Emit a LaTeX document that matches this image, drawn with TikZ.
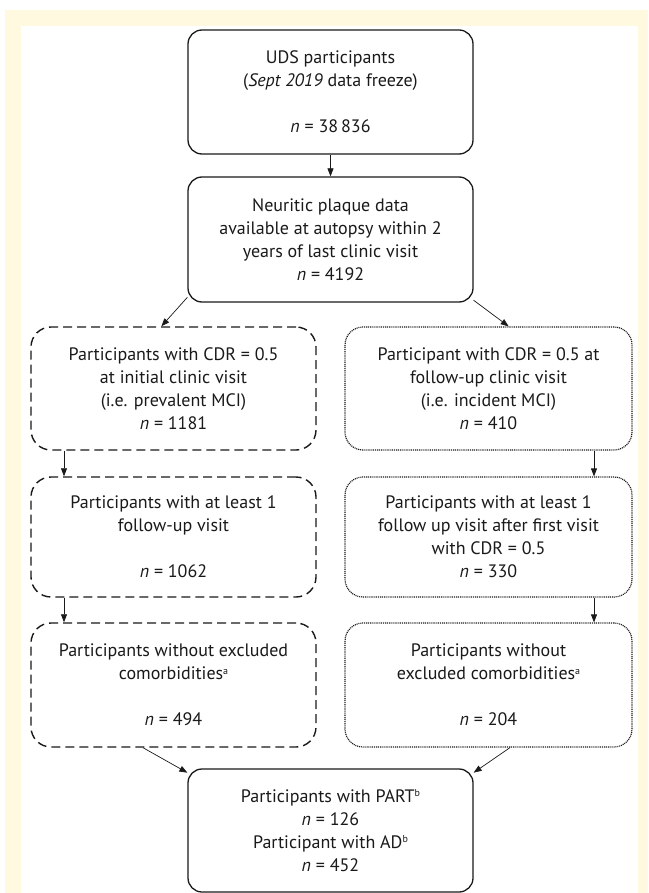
\documentclass[tikz,border=0pt]{standalone}
\usepackage{fontspec}
\setmainfont{PT Sans}
\usetikzlibrary{arrows.meta}
\definecolor{cream}{HTML}{FFF9E0}
\definecolor{ink}{HTML}{1A1A1A}
\newcommand{\nn}{\textit{n}~=~}
\newcommand{\sups}[1]{\raisebox{0.6ex}{\fontsize{10}{10}\selectfont #1}}
\tikzset{
  base/.style={draw=ink, text=ink, align=center, inner sep=0pt,
    font=\fontsize{18}{23}\selectfont, minimum height=10pt},
  solidbox/.style={base, line width=1.3pt, rounded corners=14pt},
  dashbox/.style={base, line width=1.4pt, rounded corners=20pt, dash pattern=on 9pt off 5pt},
  dotbox/.style={base, line width=1.2pt, rounded corners=18pt, dash pattern=on 1pt off 0.9pt},
  arr/.style={draw=ink, line width=0.7pt, -{Triangle[length=8pt,width=6pt]}},
}
\begin{document}
\begin{tikzpicture}[x=1pt,y=-1pt]
\useasboundingbox (0,0) rectangle (648,893);
\fill[white] (0,0) rectangle (648,893);
\fill[cream] (5,10) rectangle (648,893);
\fill[white] (21,26) rectangle (638,893);
% top boxes
\node[solidbox, minimum width=285pt, minimum height=124pt] (b1) at (330.5,92)
  {UDS participants\\(\textit{Sept 2019} data freeze)\\[23pt]\nn 38\,836};
\node[solidbox, minimum width=285pt, minimum height=125pt] (b2) at (330.5,239.5)
  {Neuritic plaque data\\available at autopsy within 2\\years of last clinic visit\\\nn 4192};
% left column
\node[dashbox, minimum width=285pt, minimum height=123pt] (L1) at (173.5,388.5)
  {Participants with CDR = 0.5\\at initial clinic visit\\(i.e. prevalent MCI)\\\nn 1181};
\node[dashbox, minimum width=285pt, minimum height=120pt] (L2) at (173.5,537)
  {Participants with at least 1\\follow-up visit\\[23pt]\nn 1062};
\node[dashbox, minimum width=285pt, minimum height=124pt] (L3) at (173.5,685)
  {Participants without excluded\\comorbidities\sups{a}\\[23pt]\nn 494};
% right column
\node[dotbox, minimum width=287pt, minimum height=123pt] (R1) at (488.5,388.5)
  {Participant with CDR = 0.5 at\\follow-up clinic visit\\(i.e. incident MCI)\\\nn 410};
\node[dotbox, minimum width=287pt, minimum height=120pt] (R2) at (488.5,537)
  {Participants with at least 1\\follow up visit after first visit\\with CDR = 0.5\\\nn 330};
\node[dotbox, minimum width=287pt, minimum height=124pt] (R3) at (488.5,685)
  {Participants without\\excluded comorbidities\sups{a}\\[23pt]\nn 204};
% final
\node[solidbox, minimum width=285pt, minimum height=123pt] (F) at (330.5,830.5)
  {Participants with PART\sups{b}\\\nn 126\\Participant with AD\sups{b}\\\nn 452};
% connectors
\draw[arr] (b1) -- (b2);
\draw[arr] (b2.202) -- (L1.101);
\draw[arr] (b2.337.5) -- (R1.72);
\draw[arr] ([xshift=-109.5pt]L1.south) -- ([xshift=-109.5pt]L2.north);
\draw[arr] ([xshift=-109.5pt]L2.south) -- ([xshift=-109.5pt]L3.north);
\draw[arr] ([xshift=105.5pt]R1.south) -- ([xshift=105.5pt]R2.north);
\draw[arr] ([xshift=105.5pt]R2.south) -- ([xshift=105.5pt]R3.north);
\draw[arr] ([xshift=-30.5pt]L3.south) -- (F.158);
\draw[arr] ([xshift=21.5pt]R3.south) -- (F.22);
\end{tikzpicture}
\end{document}
